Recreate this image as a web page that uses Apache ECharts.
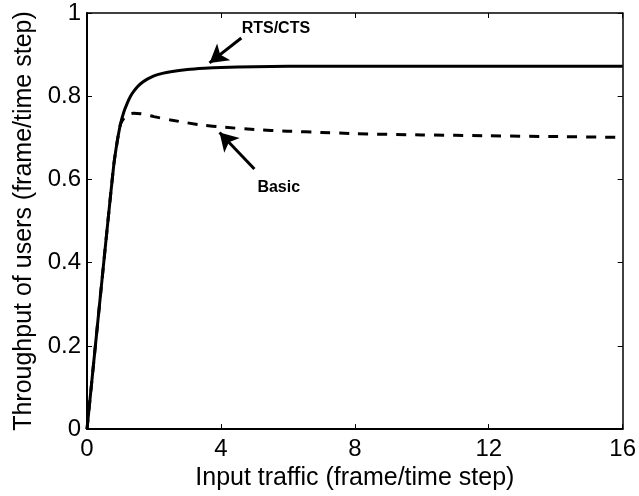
<!DOCTYPE html>
<html>
<head>
<meta charset="utf-8">
<script src="https://cdn.jsdelivr.net/npm/echarts@6/dist/echarts.min.js"></script>
<style>
  html, body { margin: 0; padding: 0; background: #fff; }
  #chart { width: 639px; height: 496px; }
</style>
</head>
<body>
<div id="chart"></div>
<script>
// Throughput vs. input traffic for RTS/CTS and Basic access
const rtsX = [0, 0.2, 0.4, 0.6, 0.8, 0.9, 1.0, 1.1, 1.2, 1.3, 1.4, 1.5, 1.6, 1.8, 2.0, 2.25, 2.5, 3, 3.5, 4, 5, 6, 8, 10, 12, 14, 16];
const rtsY = [0, 0.16, 0.32, 0.48, 0.635, 0.69, 0.733, 0.762, 0.783, 0.800, 0.812, 0.822, 0.830, 0.841, 0.849, 0.855, 0.859, 0.864, 0.867, 0.869, 0.871, 0.872, 0.872, 0.872, 0.872, 0.872, 0.872];

const basicX = [0, 0.2, 0.4, 0.6, 0.8, 0.9, 1.0, 1.1, 1.2, 1.3, 1.4, 1.6, 1.8, 2, 2.5, 3, 3.5, 4, 5, 6, 7, 8, 10, 12, 14, 16];
const basicY = [0, 0.16, 0.32, 0.48, 0.635, 0.69, 0.733, 0.747, 0.755, 0.758, 0.759, 0.758, 0.755, 0.751, 0.743, 0.736, 0.730, 0.726, 0.720, 0.716, 0.713, 0.710, 0.707, 0.705, 0.703, 0.701];

const xTicks = [0, 4, 8, 12, 16];
const yTicks = [0, 0.2, 0.4, 0.6, 0.8, 1];

// annotation arrows: [tail, head] in data units, and label anchors
const rtsArrow = [[4.61, 0.940], [3.66, 0.880]];
const basicArrow = [[5.00, 0.625], [3.96, 0.713]];
const rtsLabel = { text: 'RTS/CTS', at: [4.62, 0.962] };
const basicLabel = { text: 'Basic', at: [5.09, 0.580] };

const FONT = '"Liberation Sans", Arial, Helvetica, sans-serif';

const zip = (xs, ys) => xs.map((x, i) => [x, ys[i]]);

const chart = echarts.init(document.getElementById('chart'));

const tickBase = {
  axisTick: { show: true, inside: true, length: 5, lineStyle: { color: '#000', width: 1 } },
  splitLine: { show: false }
};

const arrowLine = coords => ({
  silent: true, symbol: ['none', 'arrow'], symbolSize: [16, 18],
  label: { show: false },
  emphasis: { disabled: true },
  lineStyle: { color: '#000', width: 3, type: 'solid' },
  data: [[{ coord: coords[0] }, { coord: coords[1] }]]
});

chart.setOption({
  animation: false,
  backgroundColor: '#fff',
  grid: { left: 87, right: 15, top: 13, bottom: 64 },
  xAxis: [
    Object.assign({
      type: 'value', min: 0, max: 16, interval: 4,
      name: 'Input traffic (frame/time step)',
      nameLocation: 'middle', nameGap: 32,
      nameTextStyle: { fontFamily: FONT, fontSize: 25, color: '#000' },
      axisLine: { show: true, onZero: false, lineStyle: { color: '#000', width: 2 } },
      axisLabel: {
        fontFamily: FONT, fontSize: 24, color: '#000', margin: 8,
        formatter: v => xTicks.includes(v) ? String(v) : ''
      }
    }, tickBase),
    Object.assign({
      type: 'value', min: 0, max: 16, interval: 4, position: 'top',
      axisLine: { show: true, onZero: false, lineStyle: { color: '#000', width: 1.5 } },
      axisLabel: { show: false }
    }, tickBase)
  ],
  yAxis: [
    Object.assign({
      type: 'value', min: 0, max: 1, interval: 0.2,
      name: 'Throughput of users (frame/time step)',
      nameLocation: 'middle', nameGap: 49,
      nameTextStyle: { fontFamily: FONT, fontSize: 25, color: '#000' },
      axisLine: { show: true, onZero: false, lineStyle: { color: '#000', width: 2 } },
      axisLabel: {
        fontFamily: FONT, fontSize: 24, color: '#000', margin: 6,
        formatter: v => {
          const t = yTicks.find(k => Math.abs(k - v) < 1e-9);
          return t === undefined ? '' : String(t);
        }
      }
    }, tickBase),
    Object.assign({
      type: 'value', min: 0, max: 1, interval: 0.2, position: 'right',
      axisLine: { show: true, onZero: false, lineStyle: { color: '#000', width: 1.5 } },
      axisLabel: { show: false }
    }, tickBase)
  ],
  series: [
    {
      name: 'Basic', type: 'line', data: zip(basicX, basicY),
      showSymbol: false, smooth: 0.2, z: 2,
      lineStyle: { color: '#000', width: 3, type: [10, 9] },
      markLine: arrowLine(basicArrow)
    },
    {
      name: 'RTS/CTS', type: 'line', data: zip(rtsX, rtsY),
      showSymbol: false, smooth: 0.2, z: 3,
      lineStyle: { color: '#000', width: 3 },
      markLine: arrowLine(rtsArrow)
    }
  ]
});

// place the annotation labels from data coordinates
const toPx = p => chart.convertToPixel({ xAxisIndex: 0, yAxisIndex: 0 }, p);
chart.setOption({
  graphic: [rtsLabel, basicLabel].map(l => {
    const p = toPx(l.at);
    return {
      type: 'text', x: p[0], y: p[1], z: 10,
      style: {
        text: l.text, fill: '#000', fontFamily: FONT, fontSize: 16, fontWeight: 'bold',
        textAlign: 'left', textVerticalAlign: 'middle'
      }
    };
  })
});
</script>
</body>
</html>
